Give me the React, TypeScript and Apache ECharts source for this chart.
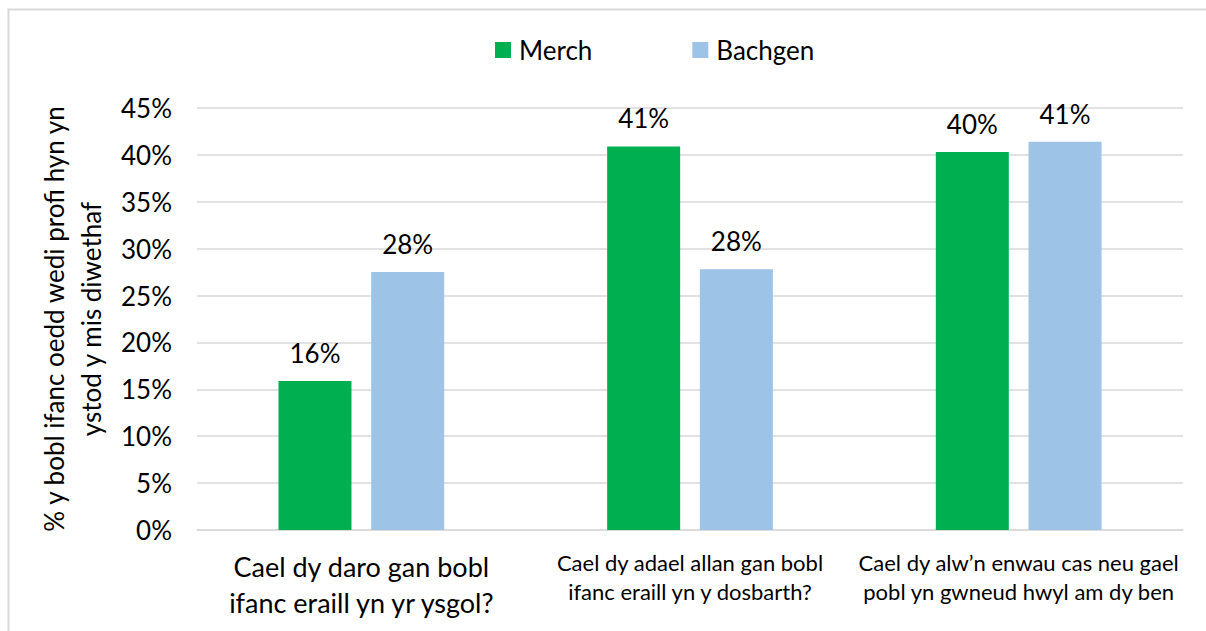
import React, { useEffect, useRef } from "react";
import * as echarts from "echarts";

const categories = [
  "Cael dy daro gan bobl\nifanc eraill yn yr ysgol?",
  "Cael dy adael allan gan bobl\nifanc eraill yn y dosbarth?",
  "Cael dy alw’n enwau cas neu gael\npobl yn gwneud hwyl am dy ben",
];
const merch = [15.9, 40.9, 40.3];
const bachgen = [27.5, 27.8, 41.4];
const seriesNames = ["Merch", "Bachgen"];
const yAxisName = "% y bobl ifanc oedd wedi profi hyn yn\nystod y mis diwethaf";

const FONT = "Lato";

export default function App() {
  const ref = useRef<HTMLDivElement>(null);
  useEffect(() => {
    const chart = echarts.init(ref.current!, null, { renderer: "svg" });
    const labelCfg = {
      show: true,
      position: "top",
      distance: 15,
      fontFamily: FONT,
      fontSize: 26,
      color: "#000",
      formatter: (p: any) => Math.round(p.value) + "%",
    };
    chart.setOption({
      animation: false,
      textStyle: { fontFamily: FONT },
      graphic: [
        {
          type: "rect",
          shape: { x: 8.5, y: 9.5, width: 1400, height: 800 },
          style: { fill: "none", stroke: "#d9d9d9", lineWidth: 2 },
          silent: true,
        },
      ],
      legend: {
        left: 490,
        top: 32,
        itemWidth: 16,
        itemHeight: 16,
        itemGap: 100,
        icon: "rect",
        textStyle: { fontFamily: FONT, fontSize: 26, color: "#000", padding: [0, 0, 0, 3] },
        data: seriesNames,
      },
      grid: { left: 197, right: 23, top: 108, bottom: 101, containLabel: false },
      xAxis: {
        type: "category",
        data: categories.map((c, i) => ({
          value: c,
          textStyle:
            i === 0
              ? { fontSize: 27, lineHeight: 36 }
              : { fontSize: 22, lineHeight: 29 },
        })),
        axisLine: { lineStyle: { color: "#d9d9d9", width: 1.5 } },
        axisTick: { show: false },
        axisLabel: { color: "#000", fontFamily: FONT, margin: 18, interval: 0 },
      },
      yAxis: {
        type: "value",
        min: 0,
        max: 45,
        interval: 5,
        name: yAxisName,
        nameLocation: "middle",
        nameRotate: 90,
        nameGap: 88,
        nameTextStyle: { fontFamily: FONT, fontSize: 26, lineHeight: 37, color: "#000" },
        axisLine: { show: false },
        axisTick: { show: false },
        axisLabel: {
          color: "#000",
          fontFamily: FONT,
          fontSize: 26,
          margin: 25,
          formatter: (v: number) => v + "%",
        },
        splitLine: { lineStyle: { color: "#d9d9d9", width: 1.5 } },
      },
      series: [
        {
          name: seriesNames[0],
          type: "bar",
          data: merch,
          barWidth: 73,
          barGap: "27%",
          itemStyle: { color: "#00B050" },
          label: labelCfg,
        },
        {
          name: seriesNames[1],
          type: "bar",
          data: bachgen,
          barWidth: 73,
          barGap: "27%",
          itemStyle: { color: "#9DC3E6" },
          label: labelCfg,
        },
      ],
    });
    return () => chart.dispose();
  }, []);
  return (
    <div
      ref={ref}
      style={{ position: "absolute", left: 0, top: 0, width: 1206, height: 631, background: "#fff" }}
    />
  );
}
